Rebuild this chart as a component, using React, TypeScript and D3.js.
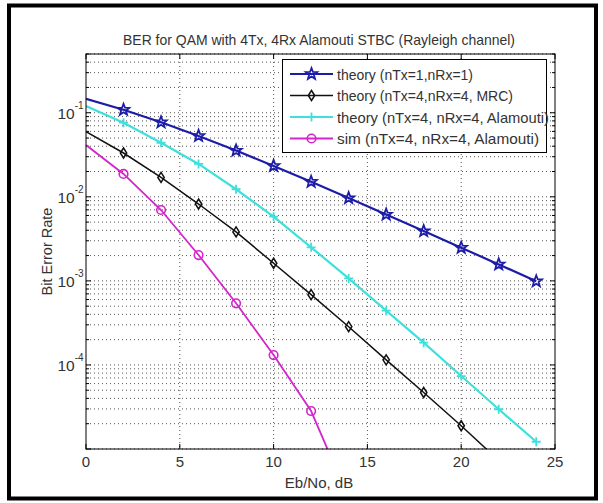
import React from "react";
import * as d3 from "d3";

const snrDb = [0, 2, 4, 6, 8, 10, 12, 14, 16, 18, 20, 22, 24];
const snrDbSim = [0, 2, 4, 6, 8, 10, 12, 14];
const berTheory1x1 = [0.1464, 0.1085, 0.0771, 0.053, 0.0355, 0.0233, 0.0151, 0.00966, 0.00615, 0.00391, 0.00248, 0.00157, 0.00099];
const berTheoryMrc = [0.0595, 0.0332, 0.017, 0.00821, 0.00382, 0.00162, 0.000685, 0.000285, 0.000115, 0.000047, 0.0000189, 0.0000073, 0.0000029];
const berTheoryAlamouti = [0.1203, 0.0762, 0.044, 0.0246, 0.0123, 0.0058, 0.00251, 0.00107, 0.000442, 0.000184, 0.0000738, 0.0000297, 0.0000122];
const berSimAlamouti = [0.0413, 0.0187, 0.00697, 0.00203, 0.000541, 0.000131, 0.0000283, 0.0000026];

const xTicks = [0, 5, 10, 15, 20, 25];
const yMajorExps = [-1, -2, -3, -4];
const legendLabels = [
  "theory (nTx=1,nRx=1)",
  "theory (nTx=4,nRx=4, MRC)",
  "theory (nTx=4, nRx=4, Alamouti)",
  "sim (nTx=4, nRx=4, Alamouti)",
];
const legendWidths = [136, 176, 212, 202];
const titleText = "BER for QAM with 4Tx, 4Rx Alamouti STBC (Rayleigh channel)";
const xLabel = "Eb/No, dB";
const yLabel = "Bit Error Rate";

const W = 603, H = 503;
const L = 86, R = 555, T = 54, B = 449;
const font = "'Liberation Sans', Arial, sans-serif";
const textColor = "#333";

const x = d3.scaleLinear().domain([0, 25]).range([L, R]);
const y = d3.scaleLog().domain([1e-5, 0.5]).range([B, T]);

function starPath(r: number) {
  const pts: string[] = [];
  for (let i = 0; i < 10; i++) {
    const rr = i % 2 === 0 ? r : r * 0.42;
    const a = -Math.PI / 2 + (i * Math.PI) / 5;
    pts.push(`${(rr * Math.cos(a)).toFixed(2)},${(rr * Math.sin(a)).toFixed(2)}`);
  }
  return "M" + pts.join("L") + "Z";
}

type Series = { xs: number[]; ys: number[]; color: string; width: number; marker: string };
const series: Series[] = [
  { xs: snrDb, ys: berTheory1x1, color: "#1c1ca8", width: 2.2, marker: "star" },
  { xs: snrDb, ys: berTheoryMrc, color: "#111", width: 1.5, marker: "diamond" },
  { xs: snrDb, ys: berTheoryAlamouti, color: "#3ee0dc", width: 2.2, marker: "plus" },
  { xs: snrDbSim, ys: berSimAlamouti, color: "#d424cc", width: 1.8, marker: "circle" },
];

function Marker({ kind, color, cx, cy }: { kind: string; color: string; cx: number; cy: number }) {
  const t = `translate(${cx},${cy})`;
  if (kind === "star") return <path d={starPath(6)} transform={t} fill="none" stroke={color} strokeWidth={1.8} />;
  if (kind === "diamond") return <path d="M0,-5L3.2,0L0,5L-3.2,0Z" transform={t} fill="none" stroke={color} strokeWidth={1.5} />;
  if (kind === "plus") return <path d="M-4.5,0H4.5M0,-4.5V4.5" transform={t} fill="none" stroke={color} strokeWidth={1.8} />;
  return <circle cx={cx} cy={cy} r={4.3} fill="none" stroke={color} strokeWidth={1.6} />;
}

export default function App() {
  const minorVals: number[] = [];
  for (let e = -5; e <= -1; e++) for (let k = 1; k <= 9; k++) { const v = k * Math.pow(10, e); if (v <= 0.5 + 1e-12 && v >= 1e-5) minorVals.push(v); }
  const line = d3.line<[number, number]>().x((d) => x(d[0])).y((d) => y(d[1]));
  const gridStroke = "#555";
  return (
    <svg width={W} height={H} style={{ position: "absolute", left: 0, top: 0 }} fontFamily={font}>
      <rect x={0} y={0} width={W} height={H} fill="#fff" />
      <rect x={9} y={5.5} width={587} height={493} fill="none" stroke="#000" strokeWidth={4} />
      <defs>
        <clipPath id="pc"><rect x={L} y={T} width={R - L} height={B - T} /></clipPath>
      </defs>
      {minorVals.map((v, i) => (
        <line key={"gy" + i} x1={L} x2={R} y1={y(v)} y2={y(v)} stroke={gridStroke} strokeWidth={1} strokeDasharray="1,3" />
      ))}
      {xTicks.slice(1, -1).map((t) => (
        <line key={"gx" + t} x1={x(t)} x2={x(t)} y1={T} y2={B} stroke={gridStroke} strokeWidth={1} strokeDasharray="1,3" />
      ))}
      {xTicks.map((t) => (
        <g key={"xt" + t}>
          <line x1={x(t)} x2={x(t)} y1={B} y2={B - 5} stroke="#000" />
          <line x1={x(t)} x2={x(t)} y1={T} y2={T + 5} stroke="#000" />
          <text x={x(t)} y={467} textAnchor="middle" fontSize={15} fill={textColor}>{t}</text>
        </g>
      ))}
      {minorVals.map((v, i) => {
        const major = Math.abs(Math.log10(v) - Math.round(Math.log10(v))) < 1e-9;
        const len = major ? 5 : 3;
        return (
          <g key={"yt" + i}>
            <line x1={L} x2={L + len} y1={y(v)} y2={y(v)} stroke="#000" />
            <line x1={R} x2={R - len} y1={y(v)} y2={y(v)} stroke="#000" />
          </g>
        );
      })}
      {yMajorExps.map((e) => (
        <text key={"yl" + e} x={57.5} y={y(Math.pow(10, e)) + 6.5} fontSize={15.5} fill={textColor}>
          10<tspan fontSize={10} dy={-10}>{e}</tspan>
        </text>
      ))}
      <g clipPath="url(#pc)">
        {series.map((s, i) => (
          <path key={"s" + i} d={line(s.xs.map((xv, j) => [xv, s.ys[j]] as [number, number])) || ""} fill="none" stroke={s.color} strokeWidth={s.width} />
        ))}
      </g>
      {series.map((s, i) => (
        <g key={"m" + i}>
          {s.xs.map((xv, j) => {
            const v = s.ys[j];
            if (xv === 0 || v < 1e-5) return null;
            return <Marker key={j} kind={s.marker} color={s.color} cx={x(xv)} cy={y(v)} />;
          })}
        </g>
      ))}
      <rect x={L} y={T} width={R - L} height={B - T} fill="none" stroke="#000" strokeWidth={1} />
      <rect x={282.5} y={59.5} width={264} height={93} fill="#fff" stroke="#000" strokeWidth={1} />
      {series.map((s, i) => {
        const ly = 74 + i * 21.5;
        return (
          <g key={"lg" + i}>
            <line x1={290} x2={333} y1={ly} y2={ly} stroke={s.color} strokeWidth={s.width} />
            <Marker kind={s.marker} color={s.color} cx={311.5} cy={ly} />
            <text x={337} y={ly + 5.5} fontSize={15} fill={textColor} textLength={legendWidths[i]} lengthAdjust="spacingAndGlyphs">{legendLabels[i]}</text>
          </g>
        );
      })}
      <text x={123} y={44.5} fontSize={15} fill={textColor} textLength={392} lengthAdjust="spacingAndGlyphs">{titleText}</text>
      <text x={319} y={488} textAnchor="middle" fontSize={15} fill={textColor}>{xLabel}</text>
      <text transform={`translate(52,${(T + B) / 2}) rotate(-90)`} textAnchor="middle" fontSize={14.5} fill={textColor}>{yLabel}</text>
    </svg>
  );
}
